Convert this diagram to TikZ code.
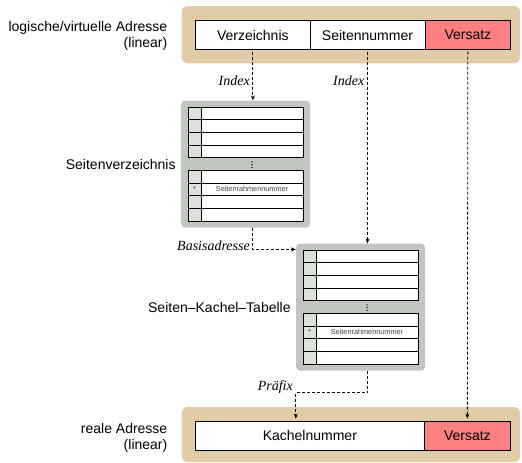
\documentclass[tikz,border=0pt]{standalone}
\usepackage{fontspec}
\setmainfont{Liberation Sans}
\newfontfamily\kursiv{Liberation Serif}
\usetikzlibrary{positioning,arrows.meta}

\definecolor{adressbraun}{HTML}{E0CCA6}
\definecolor{tabgrau}{HTML}{C2C6C0}
\definecolor{spaltgrau}{HTML}{DDE1DC}
\definecolor{versatzrot}{HTML}{FF8080}

\tikzset{
  adresse/.style={fill=adressbraun, rounded corners=6pt, minimum width=338.3pt, inner sep=0pt},
  feld/.style={draw, line width=0.8pt, fill=white, minimum height=29pt, inner sep=0pt, outer sep=0pt},
  tabelle/.style={fill=tabgrau, rounded corners=4pt, minimum width=129pt, minimum height=127pt, inner sep=0pt},
  zelle/.style={draw, line width=0.8pt, fill=white, minimum width=102pt, minimum height=12.7pt, inner sep=0pt, outer sep=0pt},
  kante/.style={draw, line width=0.8pt, fill=spaltgrau, minimum width=13pt, minimum height=12.7pt, inner sep=0pt, outer sep=0pt},
  klein/.style={font=\fontsize{7.3}{8}\selectfont, text=black!75, inner sep=0pt},
  pfeil/.style={dash pattern=on 3pt off 2pt, line width=0.8pt, -{Stealth[length=5pt,width=4pt]}},
  beschr/.style={font=\fontsize{14}{16}\selectfont\kursiv\itshape, anchor=east, inner sep=0pt},
  titel/.style={align=right, inner sep=0pt}
}

\begin{document}
\begin{tikzpicture}[x=1pt,y=-1pt,every node/.style={font=\fontsize{14}{16}\selectfont}]
  \useasboundingbox (0,0) rectangle (522,463);

  % logische Adresse
  \node[adresse, minimum height=57.3pt] (virt) at (350.85,34.65) {};
  \node[feld, minimum width=114.3pt] (verz) at (252.85,35) {Verzeichnis};
  \node[feld, minimum width=115pt, right=0pt of verz] (snr) {Seitennummer};
  \node[feld, minimum width=85.7pt, fill=versatzrot, right=0pt of snr] (vs1) {Versatz};
  \node[titel, left=14pt of virt, yshift=-1pt] (virt-titel) {logische/virtuelle Adresse\\(linear)};

  % reale Adresse
  \node[adresse, minimum height=55pt] (real) at (350.85,434.5) {};
  \node[feld, minimum width=228.3pt, minimum height=28.3pt] (kachel) at (309.85,435.85) {Kachelnummer};
  \node[feld, minimum width=86.7pt, minimum height=28.3pt, fill=versatzrot, right=0pt of kachel] (vs2) {Versatz};
  \node[titel, left=14pt of real, yshift=-3pt] (real-titel) {reale Adresse\\(linear)};

  % die beiden Tabellen
  \foreach \t/\dx/\dy/\name in {sv/0/0/Seitenverzeichnis, sk/115/143/Seiten--Kachel--Tabelle} {
    \node[tabelle] (\t) at (245.5+\dx,164.1+\dy) {};
    \foreach \i in {0,...,3} {
      \node[kante] (\t-ok\i) at (194.5+\dx,113.35+12.7*\i+\dy) {};
      \node[zelle, right=0pt of \t-ok\i] (\t-o\i) {};
      \node[kante] (\t-uk\i) at (194.5+\dx,176.65+12.7*\i+\dy) {};
      \node[zelle, right=0pt of \t-uk\i] (\t-u\i) {};
    }
    \node[klein] (\t-nr) at (\t-u1) {Seitenrahmennummer};
    \node[klein] (\t-stern) at (\t-uk1) {*};
    \foreach \k in {-1,0,1}
      \fill (252+\dx,164.6+2.8*\k+\dy) circle (0.75pt);
    \node[titel, left=5pt of \t] (\t-titel) {\name};
  }

  % Verbindungen
  \draw[pfeil, shorten <=2pt] (verz.south) -- (verz.south |- sv.north);
  \draw[pfeil, shorten <=2pt] (snr.south) -- (snr.south |- sk.north);
  \draw[pfeil, shorten <=2pt, shorten >=3pt] (vs1.south) -- (vs2.north);
  \draw[pfeil] (verz.south |- sv.south) |- ([yshift=-6pt]sk.north west);
  \draw[pfeil, shorten >=3pt] (snr.south |- sk.south) -- ++(0,22) -| (kachel.north -| sk.west);

  \node[beschr] (index1) at (250,81) {Index};
  \node[beschr] (index2) at (364.5,81) {Index};
  \node[beschr] (basis) at (250,246) {Basisadresse};
  \node[beschr] (praefix) at (293,387) {Präfix};
\end{tikzpicture}
\end{document}
